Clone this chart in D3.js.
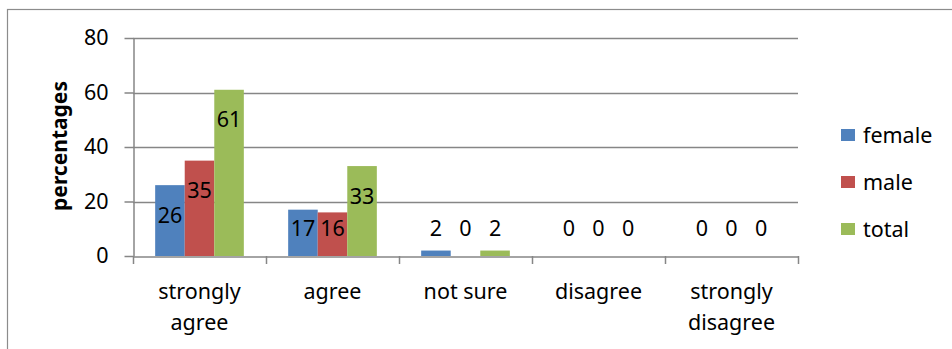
<!DOCTYPE html>
<html><head><meta charset="utf-8">
<script src="https://cdn.jsdelivr.net/npm/d3@7/dist/d3.min.js"></script>
<style>
html,body{margin:0;padding:0;background:#fff;}
svg text{font-family:"Noto Sans","Open Sans",sans-serif;fill:#000;}
</style></head>
<body><svg id="c" width="952" height="349"></svg>
<script>
const categories = [["strongly","agree"],["agree"],["not sure"],["disagree"],["strongly","disagree"]];
const seriesNames = ["female","male","total"];
const female = [26,17,2,0,0];
const male = [35,16,0,0,0];
const total = [61,33,2,0,0];
const yTicks = [0,20,40,60,80];
const colors = ["#4f81bd","#c0504d","#9bbb59"];

const svg = d3.select("#c");
const fs = 21.5;
const plot = {x0:133, x1:798, y0:256, y1:38};
const series = [female, male, total];

svg.append("rect").attr("x",7.5).attr("y",9.5).attr("width",960).attr("height",360)
  .attr("fill","none").attr("stroke","#8c8c8c").attr("stroke-width",1.2);

const x = d3.scaleBand().domain(d3.range(categories.length)).range([plot.x0,plot.x1]).paddingInner(0).paddingOuter(0);
const y = d3.scaleLinear().domain([0,80]).range([plot.y0,plot.y1]);
const xs = d3.scaleBand().domain(d3.range(3)).range([x.bandwidth()*0.75/4.5, x.bandwidth()-x.bandwidth()*0.75/4.5]);

// gridlines
svg.append("g").selectAll("line").data(yTicks.filter(t=>t>0)).join("line")
  .attr("x1",plot.x0).attr("x2",plot.x1).attr("y1",d=>Math.round(y(d))+0.5).attr("y2",d=>Math.round(y(d))+0.5)
  .attr("stroke","#868686").attr("stroke-width",1.5);

// y axis
const ya = svg.append("g").attr("transform",`translate(${plot.x0+0.5},0)`)
  .call(d3.axisLeft(y).tickValues(yTicks).tickSize(9).tickPadding(16).tickSizeOuter(0));
ya.select(".domain").attr("stroke","#868686").attr("stroke-width",1.5);
ya.selectAll(".tick line").attr("stroke","#868686").attr("stroke-width",1.5);
ya.selectAll(".tick text").attr("font-size",fs).attr("font-family","Noto Sans");

// bars
const groups = svg.append("g").selectAll("g").data(categories).join("g")
  .attr("transform",(d,i)=>`translate(${x(i)},0)`);
series.forEach((s,si)=>{
  groups.append("rect")
    .attr("x",(d,i)=>xs(si)).attr("width",xs.bandwidth())
    .attr("y",(d,i)=>y(s[i])).attr("height",(d,i)=>y(0)-y(s[i]))
    .attr("fill",colors[si]);
});

// x axis
const xa = svg.append("g").attr("transform",`translate(0,${plot.y0+0.5})`)
  .call(d3.axisBottom(x).tickSize(0).tickFormat(""));
xa.select(".domain").attr("stroke","#868686").attr("stroke-width",1.5);
xa.selectAll(".tick").remove();
svg.append("g").selectAll("line").data(d3.range(categories.length+1)).join("line")
  .attr("x1",i=>Math.round(plot.x0+i*x.step())+0.5).attr("x2",i=>Math.round(plot.x0+i*x.step())+0.5)
  .attr("y1",plot.y0).attr("y2",plot.y0+8).attr("stroke","#868686").attr("stroke-width",1.5);

// category labels
categories.forEach((c,i)=>{
  const t = svg.append("text").attr("text-anchor","middle").attr("font-size",fs)
    .attr("x",x(i)+x.bandwidth()/2).attr("y",299);
  c.forEach((ln,k)=>t.append("tspan").attr("x",x(i)+x.bandwidth()/2).attr("dy",k?31:0).text(ln));
});

// data labels
series.forEach((s,si)=>{
  groups.append("text").attr("text-anchor","middle").attr("font-size",fs)
    .attr("x",(d,i)=>xs(si)+xs.bandwidth()/2)
    .attr("y",(d,i)=>Math.min(y(s[i])+30, y(0)-28)+7.5)
    .text((d,i)=>s[i]);
});

// y title
svg.append("text").attr("transform","translate(67,146) rotate(-90)").attr("text-anchor","middle")
  .attr("font-size",21).attr("font-weight","bold").text("percentages");

// legend
const lg = svg.append("g").selectAll("g").data(seriesNames).join("g")
  .attr("transform",(d,i)=>`translate(841,${129+i*47})`);
lg.append("rect").attr("width",14).attr("height",12).attr("fill",(d,i)=>colors[i]);
lg.append("text").attr("x",22).attr("y",13.5).attr("font-size",fs).text(d=>d);
</script></body></html>
